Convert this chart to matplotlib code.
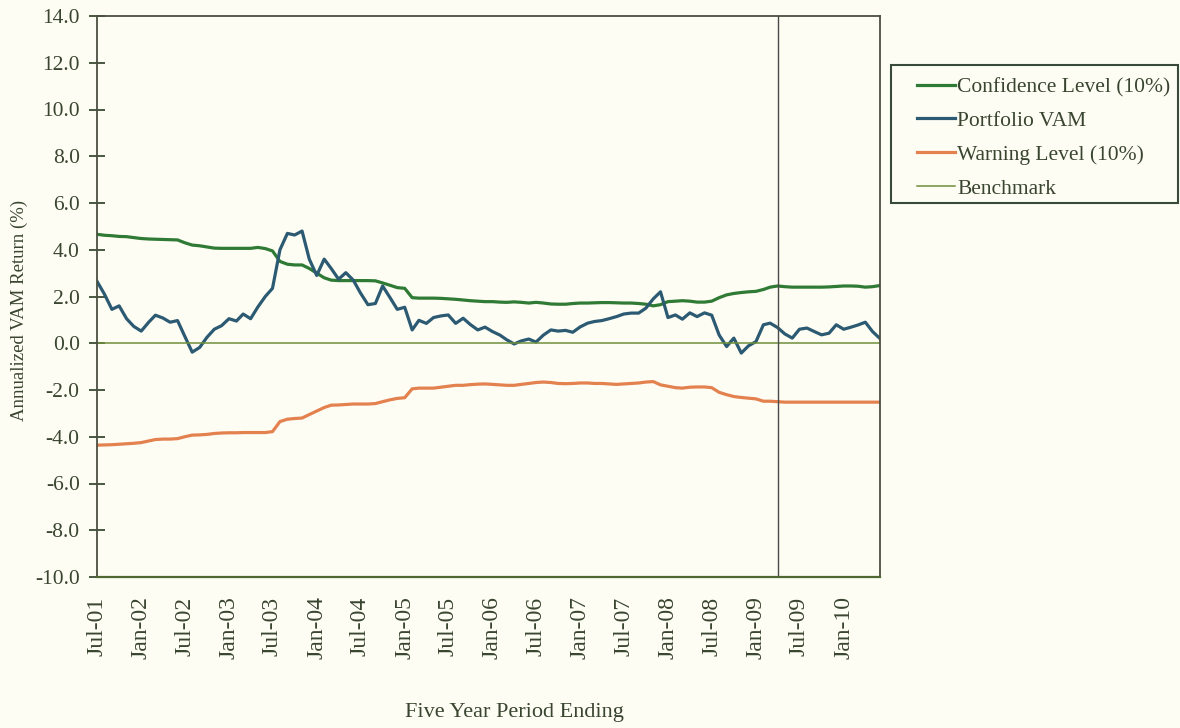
import matplotlib
matplotlib.use("Agg")
import matplotlib.pyplot as plt
import matplotlib.dates as mdates
from matplotlib.patches import Rectangle
from matplotlib.ticker import FormatStrFormatter
import pandas as pd

# ---------------------------------------------------------------------------
# Data (monthly, five year period ending Jul-01 .. Jun-10)
# ---------------------------------------------------------------------------
START_MONTH = "2001-07-01"
BENCH_MARKER = "2009-04-01"

confidence = [
    4.66, 4.62, 4.60, 4.57, 4.56, 4.52, 4.48, 4.46, 4.45, 4.44, 4.43, 4.42,
    4.30, 4.20, 4.17, 4.12, 4.07, 4.06, 4.06, 4.06, 4.06, 4.06, 4.10, 4.05,
    3.95, 3.50, 3.38, 3.35, 3.35, 3.20, 3.00, 2.80, 2.70, 2.68, 2.68, 2.68,
    2.68, 2.68, 2.67, 2.58, 2.48, 2.38, 2.35, 1.95, 1.93, 1.93, 1.93, 1.92,
    1.90, 1.88, 1.85, 1.82, 1.80, 1.78, 1.78, 1.76, 1.75, 1.77, 1.75, 1.72,
    1.75, 1.72, 1.68, 1.67, 1.67, 1.70, 1.72, 1.72, 1.73, 1.74, 1.74, 1.73,
    1.72, 1.72, 1.70, 1.67, 1.60, 1.65, 1.78, 1.80, 1.82, 1.80, 1.76, 1.76,
    1.80, 1.95, 2.07, 2.13, 2.17, 2.20, 2.22, 2.30, 2.40, 2.45, 2.42, 2.40,
    2.40, 2.40, 2.40, 2.40, 2.41, 2.43, 2.45, 2.45, 2.44, 2.40, 2.42, 2.47,
]

portfolio_vam = [
    2.65, 2.10, 1.45, 1.60, 1.05, 0.72, 0.52, 0.90, 1.20, 1.08, 0.90, 0.97,
    0.30, -0.38, -0.18, 0.25, 0.60, 0.75, 1.05, 0.95, 1.25, 1.05, 1.55, 2.00,
    2.35, 4.00, 4.70, 4.63, 4.80, 3.60, 2.90, 3.60, 3.20, 2.74, 3.02, 2.70,
    2.15, 1.65, 1.70, 2.45, 1.95, 1.45, 1.54, 0.57, 0.98, 0.85, 1.10, 1.17,
    1.21, 0.85, 1.07, 0.80, 0.57, 0.69, 0.50, 0.35, 0.15, -0.03, 0.10, 0.18,
    0.05, 0.35, 0.57, 0.52, 0.55, 0.47, 0.70, 0.86, 0.93, 0.97, 1.05, 1.14,
    1.25, 1.29, 1.29, 1.50, 1.90, 2.20, 1.10, 1.21, 1.03, 1.30, 1.14, 1.30,
    1.20, 0.35, -0.14, 0.22, -0.42, -0.11, 0.07, 0.79, 0.86, 0.67, 0.40, 0.22,
    0.60, 0.65, 0.50, 0.36, 0.43, 0.79, 0.60, 0.69, 0.78, 0.90, 0.50, 0.20,
]

warning = [
    -4.36, -4.35, -4.34, -4.32, -4.30, -4.28, -4.25, -4.18, -4.12, -4.10, -4.10, -4.08,
    -4.00, -3.93, -3.92, -3.90, -3.86, -3.84, -3.83, -3.83, -3.82, -3.82, -3.82, -3.82,
    -3.78, -3.35, -3.25, -3.22, -3.20, -3.05, -2.90, -2.75, -2.65, -2.64, -2.62, -2.60,
    -2.60, -2.60, -2.58, -2.50, -2.42, -2.36, -2.33, -1.95, -1.92, -1.92, -1.92, -1.88,
    -1.84, -1.80, -1.80, -1.77, -1.75, -1.74, -1.76, -1.78, -1.80, -1.80, -1.76, -1.72,
    -1.68, -1.66, -1.68, -1.72, -1.73, -1.72, -1.70, -1.70, -1.72, -1.72, -1.74, -1.76,
    -1.74, -1.72, -1.70, -1.66, -1.64, -1.78, -1.84, -1.90, -1.92, -1.88, -1.87, -1.87,
    -1.90, -2.10, -2.20, -2.28, -2.32, -2.35, -2.38, -2.48, -2.48, -2.50, -2.52, -2.52,
    -2.52, -2.52, -2.52, -2.52, -2.52, -2.52, -2.52, -2.52, -2.52, -2.52, -2.52, -2.52,
]

benchmark = [0.0] * len(portfolio_vam)
months = pd.date_range(START_MONTH, periods=len(portfolio_vam), freq="MS")

SERIES_LABELS = ["Confidence Level (10%)", "Portfolio VAM",
                 "Warning Level (10%)", "Benchmark"]

# ---------------------------------------------------------------------------
# Style
# ---------------------------------------------------------------------------
BG = "#fdfdf4"
TEXT = "#3a4530"
plt.rcParams["font.family"] = ["Liberation Serif", "DejaVu Serif"]
plt.rcParams["axes.unicode_minus"] = False

fig = plt.figure(figsize=(11.8, 7.28), dpi=100, facecolor=BG)
ax = fig.add_axes([97 / 1180, 1 - 577 / 728, 783 / 1180, 561 / 728])
ax.set_facecolor(BG)

l_conf, = ax.plot(months, confidence, color="#2f7a34", lw=2.3)
l_vam, = ax.plot(months, portfolio_vam, color="#2c5a72", lw=2.3)
l_warn, = ax.plot(months, warning, color="#e3814f", lw=2.3)
l_bench, = ax.plot(months, benchmark, color="#6f8f3c", lw=1.1)
ax.axvline(pd.Timestamp(BENCH_MARKER), color="#4a4a4a", lw=1.0)

ax.set_xlim(months[0], months[-1])
ax.set_ylim(-10, 14)
ax.set_yticks(range(-10, 15, 2))
ax.yaxis.set_major_formatter(FormatStrFormatter("%.1f"))
ax.xaxis.set_major_locator(mdates.MonthLocator(bymonth=[1, 7]))
ax.xaxis.set_major_formatter(mdates.DateFormatter("%b-%y"))

ax.tick_params(axis="y", direction="inout", length=11, width=1.3,
               color="#3a4a30", labelsize=15.5, labelcolor=TEXT, pad=7)
ax.tick_params(axis="x", length=0, labelsize=17, labelcolor=TEXT,
               labelrotation=90, pad=14)
for side in ("top", "right", "left"):
    ax.spines[side].set_color("#4a5040")
    ax.spines[side].set_linewidth(1.3)
ax.spines["bottom"].set_color("#4f6a30")
ax.spines["bottom"].set_linewidth(1.6)

ax.set_ylabel("Annualized VAM Return (%)", fontsize=13.5, color=TEXT)
ax.yaxis.set_label_coords(-0.088, 0.476)
fig.text(514 / 1180, 1 - 712 / 728, "Five Year Period Ending",
         ha="center", va="center", fontsize=16, color=TEXT)

# legend box drawn separately so the padding matches
fig.patches.append(Rectangle((891 / 1180, 1 - 203 / 728), 287 / 1180, 138 / 728,
                             transform=fig.transFigure, fill=False,
                             edgecolor="#3a4a3a", lw=1.5))
fig.legend([l_conf, l_vam, l_warn, l_bench], SERIES_LABELS,
           loc="upper left", bbox_to_anchor=(917 / 1180, 1 - 77 / 728),
           frameon=False, fontsize=15.5, labelcolor=TEXT, handlelength=1.75,
           handletextpad=0.12, labelspacing=0.64, borderpad=0, borderaxespad=0)

fig.savefig("out.png", dpi=100, facecolor=BG)
